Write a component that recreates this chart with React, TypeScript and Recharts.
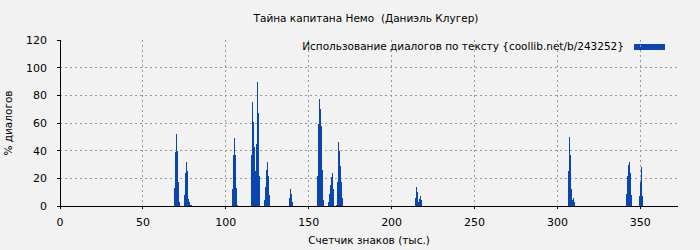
import React from "react";
import {
  BarChart,
  Bar,
  XAxis,
  YAxis,
  CartesianGrid,
} from "recharts";

// позиции (тыс. знаков) и доля диалогов (%)
const positions = [
  69.0, 69.6, 70.2, 70.8, 71.4, 72.0,
  75.0, 75.6, 76.2, 76.8, 77.4, 78.0, 78.6, 79.2,
  103.9, 104.5, 105.1, 105.7, 106.3, 106.9,
  115.4, 116.0, 116.6, 117.2, 117.8, 118.4, 119.0, 119.6, 120.2,
  123.2, 123.8, 124.4, 125.0, 125.6, 126.2,
  138.3, 138.9, 139.5, 140.1,
  155.1, 155.7, 156.3, 156.9, 157.5, 158.1, 158.7,
  161.7, 162.3, 162.9, 163.6, 164.2, 164.8,
  166.6, 167.2, 167.8, 168.4, 169.0, 169.6, 170.2,
  214.2, 214.8, 215.4, 216.0, 216.6, 217.2, 217.8,
  306.9, 307.5, 308.1, 308.7, 309.3, 309.9, 310.5,
  341.9, 342.5, 343.1, 343.7, 344.3, 344.9,
  349.7, 350.3, 350.9, 351.5,
];

const dialogs = [
  13, 39, 52, 40, 17, 3,
  8, 24, 32, 25, 5, 3, 1, 1,
  12, 37, 49, 37, 13, 1,
  37, 75, 61, 43, 25, 45, 90, 67, 22,
  4, 14, 26, 32, 22, 8,
  6, 12, 9, 3,
  22, 59, 77, 70, 58, 26, 4,
  3, 9, 15, 21, 24, 12,
  1, 17, 46, 40, 29, 17, 6,
  6, 14, 10, 3, 5, 7, 4,
  25, 50, 37, 12, 4, 6, 3,
  9, 22, 30, 32, 24, 8,
  7, 17, 28, 7,
];

const xTicks = [0, 50, 100, 150, 200, 250, 300, 350];
const yTicks = [0, 20, 40, 60, 80, 100, 120];

const title = "Тайна капитана Немо  (Даниэль Клугер)";
const legendText = "Использование диалогов по тексту {coollib.net/b/243252}";

const data = positions.map((x, i) => ({ x, value: dialogs[i] }));

const font = "'DejaVu Sans', sans-serif";
const barColor = "#0a46b0";

export default function App() {
  return (
    <div
      style={{
        position: "absolute",
        left: 0,
        top: 0,
        width: 700,
        height: 250,
        background: "#f2f2f2",
        fontFamily: font,
      }}
    >
      <div
        style={{
          position: "absolute",
          top: 12,
          left: 0,
          width: 732,
          textAlign: "center",
          fontSize: 10.5,
          whiteSpace: "pre",
          color: "#000",
        }}
      >
        {title}
      </div>
      <div
        style={{
          position: "absolute",
          top: 40,
          right: 76,
          fontSize: 10.5,
          color: "#000",
        }}
      >
        {legendText}
      </div>
      <div
        style={{
          position: "absolute",
          top: 44,
          left: 634,
          width: 31,
          height: 6,
          background: barColor,
        }}
      />
      <BarChart
        width={700}
        height={250}
        data={data}
        margin={{ top: 40, right: 22, left: 30, bottom: 14 }}
        style={{ fontFamily: font, shapeRendering: "crispEdges" }}
      >
        <CartesianGrid
          stroke="#999"
          strokeDasharray="2 3"
          horizontalValues={[20, 40, 60, 80, 100]}
          verticalValues={[50, 100, 150, 200, 250, 300, 350]}
        />
        <XAxis
          dataKey="x"
          type="number"
          domain={[0, 372.7]}
          ticks={xTicks}
          tick={{ fontSize: 11, fill: "#000" }}
          tickSize={3}
          tickMargin={9}
          axisLine={{ stroke: "#000" }}
          tickLine={{ stroke: "#000" }}
          height={30}
          label={{
            value: "Счетчик знаков (тыс.)",
            position: "insideBottom",
            offset: -8,
            fontSize: 10.5,
            fill: "#000",
          }}
        />
        <XAxis
          xAxisId="top"
          orientation="top"
          dataKey="x"
          type="number"
          domain={[0, 372.7]}
          tick={false}
          tickLine={false}
          axisLine={{ stroke: "#000" }}
          height={0}
        />
        <YAxis
          type="number"
          domain={[0, 120]}
          ticks={yTicks}
          tick={{ fontSize: 11, fill: "#000" }}
          tickSize={3}
          tickMargin={10}
          axisLine={{ stroke: "#000" }}
          tickLine={{ stroke: "#000" }}
          width={30}
          label={{
            value: "% диалогов",
            angle: -90,
            position: "insideLeft",
            offset: -22,
            fontSize: 10.5,
            fill: "#000",
            style: { textAnchor: "middle" },
          }}
        />
        <YAxis
          yAxisId="right"
          orientation="right"
          type="number"
          domain={[0, 120]}
          tick={false}
          tickLine={false}
          axisLine={{ stroke: "#000" }}
          width={0}
        />
        <Bar dataKey="value" fill={barColor} barSize={1.6} isAnimationActive={false} />
      </BarChart>
    </div>
  );
}
